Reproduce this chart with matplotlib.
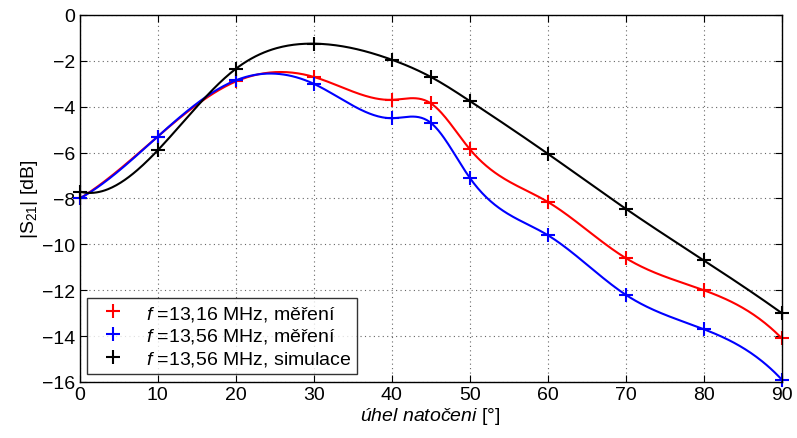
import matplotlib
matplotlib.use("Agg")
import matplotlib.pyplot as plt
import numpy as np

plt.rcParams['font.family'] = ['Liberation Sans', 'DejaVu Sans']
plt.rcParams['mathtext.fontset'] = 'custom'
plt.rcParams['mathtext.rm'] = 'Liberation Sans'
plt.rcParams['mathtext.it'] = 'Liberation Sans:italic'

# uhel natoceni [deg]
angle = [0, 10, 20, 30, 40, 45, 50, 60, 70, 80, 90]
# |S21| [dB]
s21_1316_meas = [-8.0, -5.3, -2.9, -2.7, -3.7, -3.85, -5.85, -8.15, -10.6, -12.0, -14.1]
s21_1356_meas = [-8.0, -5.3, -2.85, -3.0, -4.5, -4.7, -7.1, -9.6, -12.2, -13.7, -15.9]
s21_1356_sim = [-7.7, -5.9, -2.35, -1.25, -1.95, -2.7, -3.75, -6.05, -8.45, -10.7, -13.0]

labels = ['$f$ =13,16 MHz, měření',
          '$f$ =13,56 MHz, měření',
          '$f$ =13,56 MHz, simulace']
colors = ['#ff0000', '#0000ff', '#000000']


def spline(x, y, xs):
    # kubicky spline, not-a-knot (jako matlab spline)
    x = np.asarray(x, float)
    y = np.asarray(y, float)
    n = len(x)
    h = np.diff(x)
    A = np.zeros((n, n))
    b = np.zeros(n)
    A[0, 0], A[0, 1], A[0, 2] = h[1], -(h[0] + h[1]), h[0]
    A[-1, -3], A[-1, -2], A[-1, -1] = h[-1], -(h[-2] + h[-1]), h[-2]
    for i in range(1, n - 1):
        A[i, i - 1] = h[i - 1]
        A[i, i] = 2 * (h[i - 1] + h[i])
        A[i, i + 1] = h[i]
        b[i] = 6 * ((y[i + 1] - y[i]) / h[i] - (y[i] - y[i - 1]) / h[i - 1])
    M = np.linalg.solve(A, b)
    idx = np.clip(np.searchsorted(x, xs) - 1, 0, n - 2)
    x0, x1 = x[idx], x[idx + 1]
    hh = x1 - x0
    return (M[idx] * (x1 - xs) ** 3 / (6 * hh) + M[idx + 1] * (xs - x0) ** 3 / (6 * hh)
            + (y[idx] / hh - M[idx] * hh / 6) * (x1 - xs)
            + (y[idx + 1] / hh - M[idx + 1] * hh / 6) * (xs - x0))


fig = plt.figure(figsize=(7.97, 4.39), dpi=100)
ax = fig.add_axes([0.100, 0.1276, 0.881, 0.836])

xs = np.linspace(0, 90, 500)
for ys, c, lab in zip([s21_1316_meas, s21_1356_meas, s21_1356_sim], colors, labels):
    ax.plot(xs, spline(angle, ys, xs), color=c, lw=1.5)
    ax.plot(angle, ys, '+', color=c, ms=10, mew=1.5, clip_on=False, label=lab)

ax.set_xlim(0, 90)
ax.set_ylim(-16, 0)
ax.set_xticks(np.arange(0, 91, 10))
ax.set_yticks(np.arange(-16, 1, 2))
ax.grid(True, color='#666666', linestyle=(0, (1, 3)), linewidth=0.8)
ax.tick_params(direction='in', top=True, right=True, labelsize=14, length=5, pad=3)
for s in ax.spines.values():
    s.set_linewidth(1.0)

ax.set_xlabel('$úhel\\ natočeni$ [°]', fontsize=14, labelpad=1)
ax.set_ylabel('|S$_{21}$| [dB]', fontsize=14, labelpad=2)

leg = ax.legend(loc='lower left', fontsize=14, frameon=True, fancybox=False,
                edgecolor='black', handletextpad=0.7, borderpad=0.3,
                labelspacing=0.2, bbox_to_anchor=(0.0, 0.0), borderaxespad=0.4)
leg.get_frame().set_linewidth(1.0)

fig.savefig('out.png', dpi=100)
